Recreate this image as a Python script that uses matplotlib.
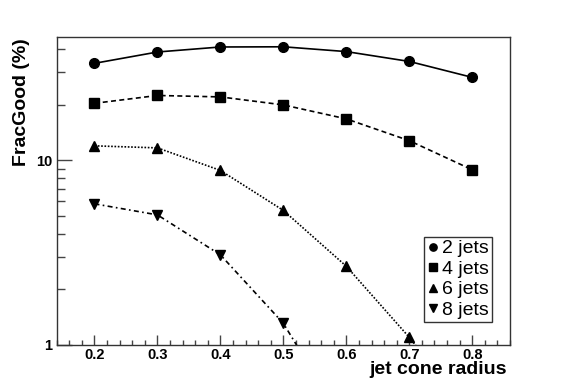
import matplotlib
matplotlib.use("Agg")
import matplotlib.pyplot as plt
from matplotlib.ticker import FixedLocator, NullFormatter, FixedFormatter, MultipleLocator

plt.rcParams['font.family'] = ['Liberation Sans', 'DejaVu Sans']

radius = [0.2, 0.3, 0.4, 0.5, 0.6, 0.7, 0.8]
jets2 = [33.6, 38.7, 41.2, 41.3, 38.9, 34.4, 28.2]
jets4 = [20.4, 22.5, 22.1, 20.0, 16.8, 12.8, 8.9]
radius6 = [0.2, 0.3, 0.4, 0.5, 0.6, 0.7, 0.8]
jets6 = [12.0, 11.7, 8.83, 5.36, 2.67, 1.10, 0.41]
radius8 = [0.2, 0.3, 0.4, 0.5, 0.6]
jets8 = [5.82, 5.07, 3.08, 1.31, 0.36]

fig = plt.figure(figsize=(5.67, 3.84), dpi=100)
ax = fig.add_axes([0.100, 0.1016, 0.7995, 0.8013])

lw = 1.2
ax.plot(radius, jets2, color='black', lw=lw, ls='-', marker='o', ms=7, label='2 jets')
ax.plot(radius, jets4, color='black', lw=lw, ls=(0, (3, 2)), marker='s', ms=7, label='4 jets')
ax.plot(radius6, jets6, color='black', lw=lw, ls=(0, (1, 1)), marker='^', ms=7, label='6 jets')
ax.plot(radius8, jets8, color='black', lw=lw, ls=(0, (3, 2, 1, 2)), marker='v', ms=7, label='8 jets')

ax.set_yscale('log')
ax.set_xlim(0.14, 0.86)
ax.set_ylim(1.0, 46.5)

ax.yaxis.set_major_locator(FixedLocator([1, 10]))
ax.yaxis.set_major_formatter(FixedFormatter(['1', '10']))
ax.yaxis.set_minor_locator(FixedLocator([2, 3, 4, 5, 6, 7, 8, 9, 20, 30, 40]))
ax.yaxis.set_minor_formatter(NullFormatter())
ax.xaxis.set_major_locator(FixedLocator(radius))
ax.xaxis.set_major_formatter(FixedFormatter(['%.1f' % r for r in radius]))
ax.xaxis.set_minor_locator(MultipleLocator(0.02))

ax.tick_params(axis='both', which='both', direction='in', top=False, right=False,
               color='#444444', width=1)
ax.tick_params(axis='y', which='major', length=11, pad=3)
ax.tick_params(axis='y', which='minor', length=5.5)
ax.tick_params(axis='x', which='major', length=7, pad=2.5)
ax.tick_params(axis='x', which='minor', length=3.5)
for lab in ax.get_xticklabels() + ax.get_yticklabels():
    lab.set_fontweight('bold')
    lab.set_fontsize(10.5)

for s in ax.spines.values():
    s.set_color('#333333')
    s.set_linewidth(1)

ax.set_xlabel('jet cone radius', fontsize=14, fontweight='bold', loc='right')
ax.set_ylabel('FracGood (%)', fontsize=14, fontweight='bold', loc='top')
ax.xaxis.set_label_coords(0.9934, -0.053)
ax.yaxis.set_label_coords(-0.058, 0.998)

leg = ax.legend(loc='lower right', bbox_to_anchor=(0.960, 0.075), frameon=True, fancybox=False,
                edgecolor='black', fontsize=14, handlelength=0.7, handletextpad=0.1,
                borderpad=0.15, labelspacing=0.15, borderaxespad=0, markerscale=0.75)
leg.get_frame().set_linewidth(1)
for h in leg.get_lines():
    h.set_linestyle('none')

fig.savefig('out.png', dpi=100)
